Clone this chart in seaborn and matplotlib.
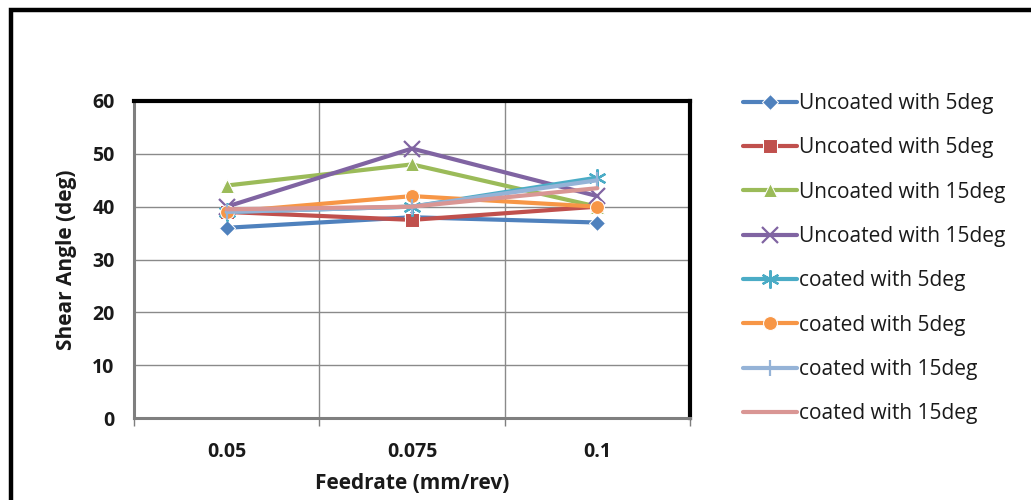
import matplotlib
matplotlib.use("Agg")
import matplotlib.pyplot as plt
import matplotlib.patches as mpatches
import seaborn as sns
import pandas as pd

# Feedrate categories (mm/rev)
feedrates = ["0.05", "0.075", "0.1"]

# Shear angle (deg) per tool condition
uncoated_5_a = [36, 38, 37]
uncoated_5_b = [39, 37.5, 40]
uncoated_15_a = [44, 48, 40]
uncoated_15_b = [40, 51, 42]
coated_5_a = [39, 40, 45.5]
coated_5_b = [39, 42, 40]
coated_15_a = [39, 40, 45]
coated_15_b = [39.5, 40, 43.5]

series_labels = [
    "Uncoated with 5deg", "Uncoated with 5deg",
    "Uncoated with 15deg", "Uncoated with 15deg",
    "coated with 5deg", "coated with 5deg",
    "coated with 15deg", "coated with 15deg",
]
series_values = [uncoated_5_a, uncoated_5_b, uncoated_15_a, uncoated_15_b,
                 coated_5_a, coated_5_b, coated_15_a, coated_15_b]

colors = ["#4F81BD", "#C0504D", "#9BBB59", "#8064A2",
          "#4BACC6", "#F79646", "#95B3D7", "#D99694"]
markers = ["D", "s", "^", "x", (6, 2, 0), "o", "|", None]
msizes = [8.5, 9.5, 10, 11, 13, 10, 12, 0]

sns.set_style("white")
plt.rcParams["font.family"] = ["Open Sans", "DejaVu Sans"]

fig = plt.figure(figsize=(10.31, 5.0), dpi=100)
ax = fig.add_axes([134 / 1031, 82 / 500, 556 / 1031, 317 / 500])

for i, (lab, vals) in enumerate(zip(series_labels, series_values)):
    df = pd.DataFrame({"pos": range(len(feedrates)), "angle": vals})
    mk = markers[i]
    kw = dict(marker=mk, markersize=msizes[i]) if mk is not None else {}
    if mk in ("x", (6, 2, 0), "|"):
        kw["markeredgewidth"] = 1.6
        kw["markeredgecolor"] = colors[i]
    sns.lineplot(data=df, x="pos", y="angle", ax=ax, color=colors[i],
                 linewidth=3.0, label=lab, zorder=3 + i, **kw)

ax.set_xlim(-0.5, len(feedrates) - 0.5)
ax.set_ylim(0, 60)
ax.set_yticks(range(0, 61, 10))
ax.set_xticks(range(len(feedrates)))
ax.set_xticklabels(feedrates)
ax.set_xticks([-0.5, 0.5, 1.5, 2.5], minor=True)

# gridlines at every 10 deg and at category boundaries
ax.grid(False)
for yv in range(10, 60, 10):
    ax.axhline(yv, color="#8A8A8A", linewidth=1.0, zorder=1)
for xv in [0.5, 1.5]:
    ax.axvline(xv, color="#8A8A8A", linewidth=1.0, zorder=1)

for side in ["left", "bottom"]:
    ax.spines[side].set_color("#7F7F7F")
    ax.spines[side].set_linewidth(2.2)
for side in ["top", "right"]:
    ax.spines[side].set_color("black")
    ax.spines[side].set_linewidth(3.0)

ax.tick_params(axis="y", which="major", length=5, width=1, color="#7F7F7F",
               labelsize=14, pad=9)
ax.tick_params(axis="x", which="major", length=0, labelsize=14, pad=17)
ax.tick_params(axis="x", which="minor", length=6, width=1, color="#7F7F7F",
               bottom=True)
for t in ax.get_xticklabels() + ax.get_yticklabels():
    t.set_fontweight("bold")
    t.set_color("#1A1A1A")

ax.set_xlabel("Feedrate (mm/rev)", fontsize=15, fontweight="bold",
              color="#1A1A1A", labelpad=8)
ax.set_ylabel("Shear Angle (deg)", fontsize=15, fontweight="bold",
              color="#1A1A1A", labelpad=11)

leg = ax.legend(loc="upper left", bbox_to_anchor=(743 / 1031, 1 - 93 / 500),
                bbox_transform=fig.transFigure, frameon=False,
                fontsize=15, handlelength=2.6, handletextpad=0.1,
                labelspacing=1.12, borderaxespad=0, borderpad=0)
for txt in leg.get_texts():
    txt.set_color("#1A1A1A")

# outer chart frame
frame = mpatches.Rectangle((11 / 1031, -0.05), 1.2, 1 - 10 / 500 + 0.05,
                           transform=fig.transFigure, fill=False,
                           edgecolor="black", linewidth=3.2, clip_on=False)
fig.patches.append(frame)

fig.savefig("out.png", dpi=100)
